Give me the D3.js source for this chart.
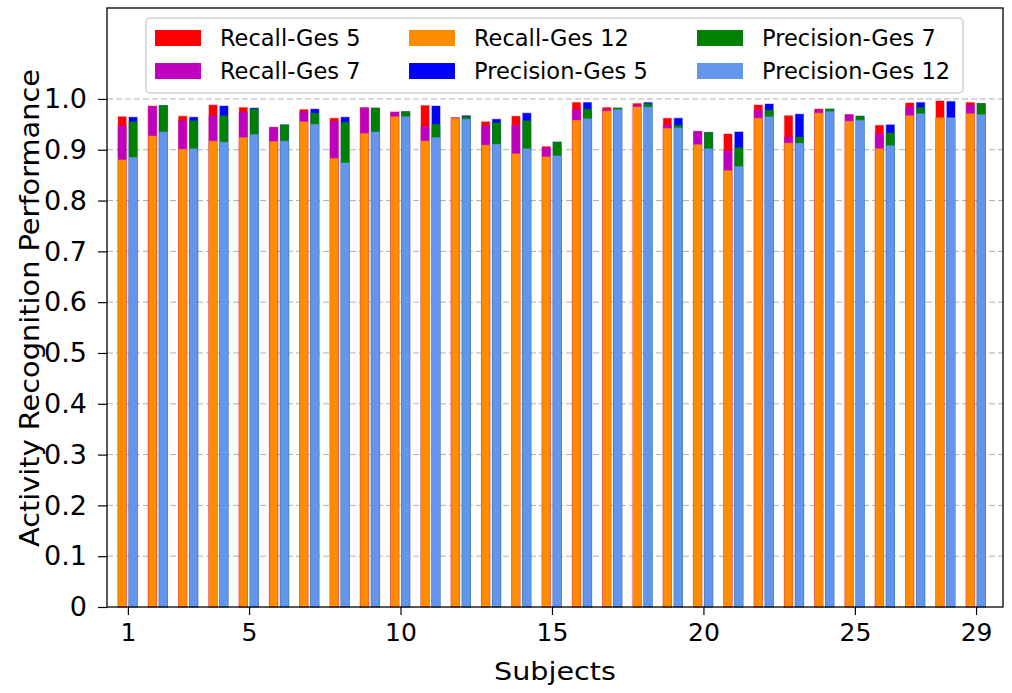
<!DOCTYPE html>
<meta charset="utf-8">
<style>
body { margin: 0; background: #fff; }
text { font-family: "DejaVu Sans", sans-serif; fill: #000; }
.grid line { stroke: #b0b0b0; stroke-dasharray: 6,3; stroke-width: 1; }
.axis path, .axis line { stroke: #000; stroke-width: 1.2; }
</style>
<body>
<script src="https://cdn.jsdelivr.net/npm/d3@7"></script>
<script>

var subjects = d3.range(1, 30);
var tickSubjects = [1, 5, 10, 15, 20, 25, 29];
var yTicks = [0, 0.1, 0.2, 0.3, 0.4, 0.5, 0.6, 0.7, 0.8, 0.9, 1.0];

var recall5  = [0.965,0.986,0.966,0.988,0.983,0.944,0.979,0.962,0.983,0.974,0.987,0.963,0.955,0.966,0.906,0.993,0.983,0.991,0.962,0.936,0.931,0.988,0.967,0.980,0.969,0.948,0.992,0.996,0.993];
var recall7  = [0.947,0.985,0.957,0.967,0.974,0.944,0.975,0.956,0.982,0.974,0.946,0.963,0.947,0.948,0.904,0.979,0.980,0.988,0.948,0.936,0.898,0.978,0.925,0.978,0.969,0.932,0.984,0.960,0.988];
var recall12 = [0.880,0.927,0.901,0.917,0.924,0.916,0.955,0.883,0.932,0.965,0.917,0.962,0.909,0.892,0.886,0.958,0.976,0.984,0.942,0.910,0.859,0.962,0.913,0.972,0.956,0.902,0.967,0.963,0.971];
var prec5    = [0.964,0.987,0.964,0.986,0.982,0.949,0.980,0.964,0.982,0.975,0.986,0.967,0.960,0.972,0.915,0.993,0.982,0.993,0.962,0.934,0.935,0.990,0.970,0.980,0.966,0.949,0.993,0.995,0.991];
var prec7    = [0.955,0.987,0.957,0.967,0.980,0.949,0.972,0.954,0.982,0.975,0.950,0.965,0.953,0.957,0.915,0.980,0.982,0.991,0.948,0.934,0.904,0.978,0.925,0.980,0.966,0.933,0.983,0.960,0.991];
var prec12   = [0.885,0.935,0.902,0.915,0.930,0.917,0.950,0.874,0.935,0.965,0.924,0.960,0.911,0.902,0.888,0.961,0.979,0.984,0.943,0.902,0.867,0.965,0.913,0.975,0.958,0.908,0.971,0.963,0.969];

var series = [
  {name: "Recall-Ges 5",     values: recall5,  color: "#ff0000", off: -0.19},
  {name: "Recall-Ges 7",     values: recall7,  color: "#bf00bf", off: -0.19},
  {name: "Recall-Ges 12",    values: recall12, color: "#ff8c00", off: -0.19},
  {name: "Precision-Ges 5",  values: prec5,    color: "#0000ff", off: 0.17},
  {name: "Precision-Ges 7",  values: prec7,    color: "#008000", off: 0.17},
  {name: "Precision-Ges 12", values: prec12,   color: "#6495ed", off: 0.17}
];
// legend is laid out column by column
var legendOrder = ["Recall-Ges 5", "Recall-Ges 7", "Recall-Ges 12", "Precision-Ges 5", "Precision-Ges 7", "Precision-Ges 12"];

var width = 1012, height = 693;
var margin = {left: 107, right: 9, top: 8, bottom: 86};

var svg = d3.select("body").append("svg")
    .attr("width", width)
    .attr("height", height);

var x = d3.scaleLinear().domain([0.31, 29.89]).range([margin.left, width - margin.right]);
var y = d3.scaleLinear().domain([0, 1.179]).range([height - margin.bottom, margin.top]);
var bw = x(0.27) - x(0);

svg.append("g").attr("class", "grid")
  .selectAll("line").data(yTicks.slice(1))
  .enter().append("line")
    .attr("x1", margin.left).attr("x2", width - margin.right)
    .attr("y1", function(d) { return y(d); })
    .attr("y2", function(d) { return y(d); });

var bars = svg.append("g");
series.forEach(function(s) {
  bars.append("g").selectAll("rect")
      .data(s.values)
    .enter().append("rect")
      .attr("x", function(d, i) { return x(subjects[i] + s.off) - bw / 2; })
      .attr("y", function(d) { return y(d); })
      .attr("width", bw)
      .attr("height", function(d) { return y(0) - y(d); })
      .attr("fill", s.color)
      .attr("stroke", s.color)
      .attr("stroke-opacity", 0.35)
      .attr("stroke-width", 1.2);
});

// frame
svg.append("rect")
    .attr("x", margin.left).attr("y", margin.top)
    .attr("width", width - margin.left - margin.right)
    .attr("height", height - margin.top - margin.bottom)
    .attr("fill", "none").attr("stroke", "#000").attr("stroke-width", 1.3);

var xAxis = svg.append("g").attr("class", "axis")
    .attr("transform", "translate(0," + y(0) + ")")
    .call(d3.axisBottom(x).tickValues(tickSubjects).tickSize(8).tickPadding(8).tickFormat(d3.format("d")));
xAxis.select(".domain").remove();
xAxis.selectAll("text").style("font-size", "25px").style("font-family", "DejaVu Sans");

var yAxis = svg.append("g").attr("class", "axis")
    .attr("transform", "translate(" + margin.left + ",0)")
    .call(d3.axisLeft(y).tickValues(yTicks).tickSize(9).tickPadding(11)
      .tickFormat(function(d) { return d === 0 ? "0" : d3.format(".1f")(d); }));
yAxis.select(".domain").remove();
yAxis.selectAll("text").style("font-size", "27px").style("font-family", "DejaVu Sans");

svg.append("text")
    .attr("x", (margin.left + width - margin.right) / 2)
    .attr("y", 680)
    .attr("text-anchor", "middle")
    .attr("textLength", 122)
    .attr("lengthAdjust", "spacingAndGlyphs")
    .style("font-size", "25px")
    .text("Subjects");

svg.append("text")
    .attr("transform", "translate(30," + 308 + ") rotate(-90)")
    .attr("text-anchor", "middle")
    .attr("dy", "0.35em")
    .attr("textLength", 478)
    .attr("lengthAdjust", "spacingAndGlyphs")
    .style("font-size", "26px")
    .text("Activity Recognition Performance");

// legend
var lg = svg.append("g");
lg.append("rect")
    .attr("x", 146).attr("y", 18).attr("width", 817).attr("height", 75)
    .attr("rx", 4)
    .attr("fill", "#fff").attr("fill-opacity", 0.85)
    .attr("stroke", "#d0d0d0").attr("stroke-width", 1.5);

var colX = [155, 409, 697];
legendOrder.forEach(function(name, k) {
  var s = series.find(function(t) { return t.name === name; });
  var cx = colX[Math.floor(k / 2)], cy = k % 2 === 0 ? 38 : 71;
  lg.append("rect")
      .attr("x", cx).attr("y", cy - 8).attr("width", 46).attr("height", 16)
      .attr("fill", s.color);
  lg.append("text")
      .attr("x", cx + 65).attr("y", cy)
      .attr("dy", "0.35em")
      .style("font-size", "22.5px")
      .text(name);
});

</script>
